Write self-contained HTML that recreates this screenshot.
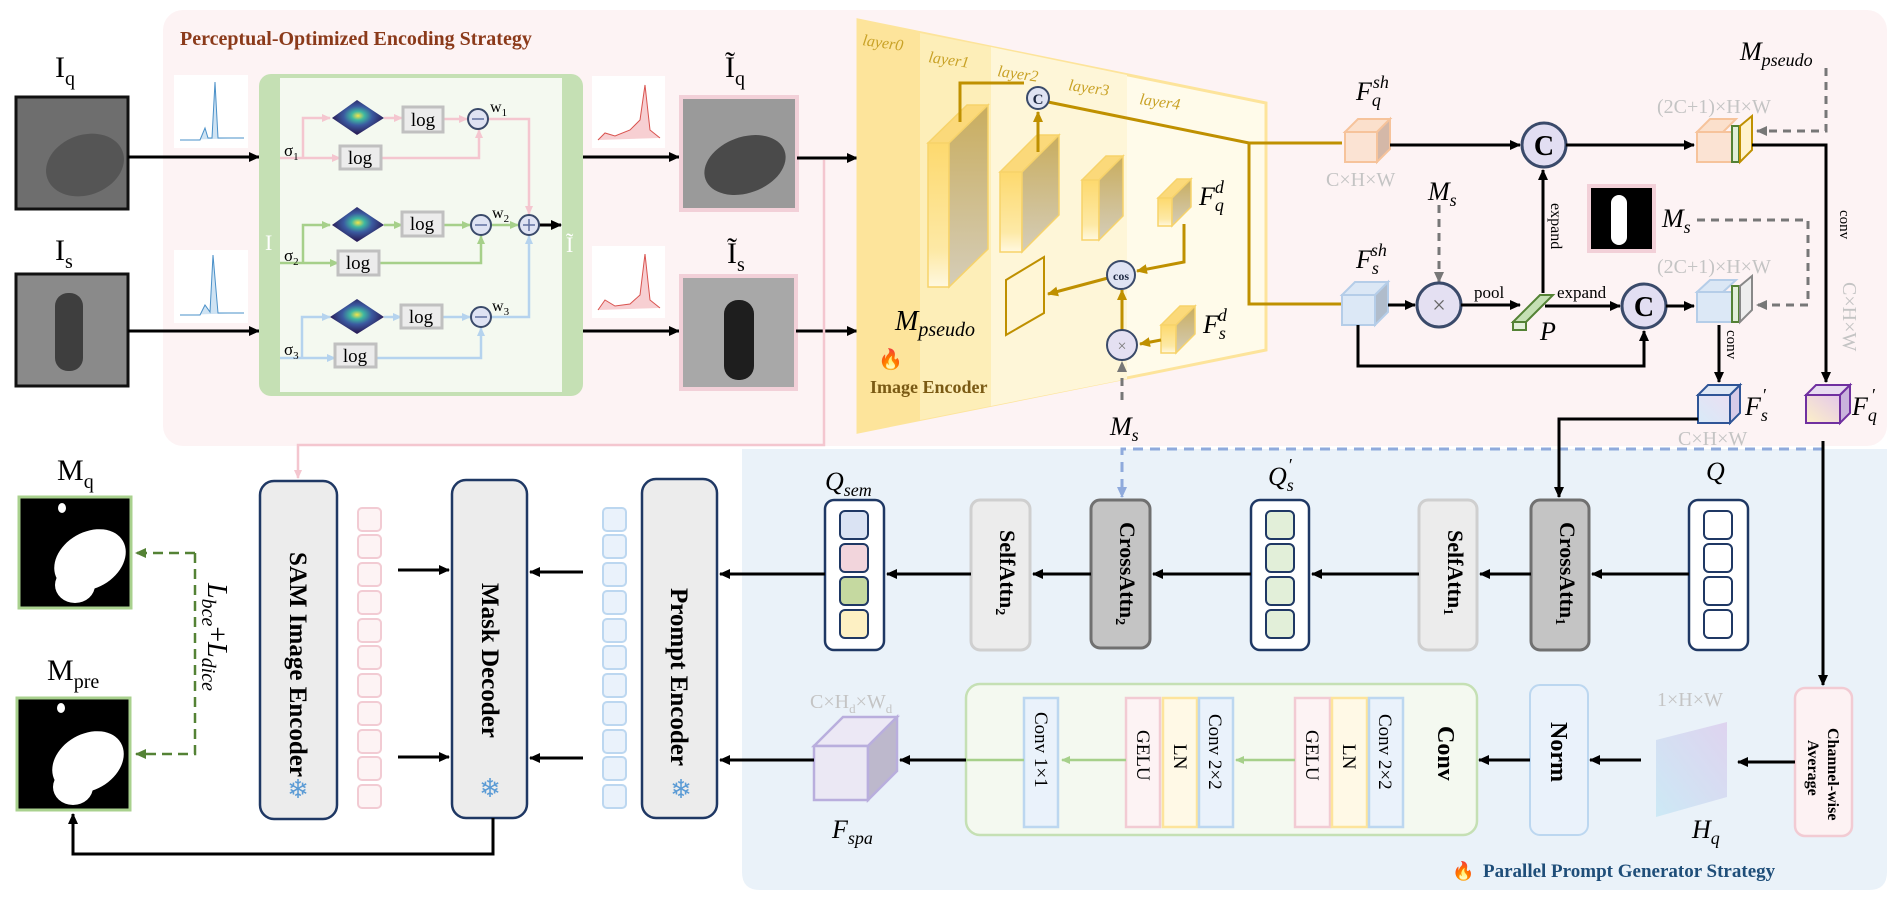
<!DOCTYPE html>
<html><head><meta charset="utf-8"><style>
html,body{margin:0;padding:0;background:#fff;}
svg{display:block;}
text{font-family:"Liberation Serif",serif;}
.it{font-style:italic;}
.gray{fill:#c4c4c4;}
</style></head><body>
<svg width="1898" height="899" viewBox="0 0 1898 899" xmlns="http://www.w3.org/2000/svg">
<defs>
<marker id="ak" markerWidth="12" markerHeight="12" refX="10" refY="6" orient="auto" markerUnits="userSpaceOnUse"><path d="M0,1 L11,6 L0,11 Z" fill="#000"/></marker>
<marker id="ag" markerWidth="12" markerHeight="12" refX="10" refY="6" orient="auto" markerUnits="userSpaceOnUse"><path d="M0,1 L11,6 L0,11 Z" fill="#777"/></marker>
<marker id="agr" markerWidth="12" markerHeight="12" refX="10" refY="6" orient="auto" markerUnits="userSpaceOnUse"><path d="M0,1 L11,6 L0,11 Z" fill="#548235"/></marker>
<marker id="alg" markerWidth="10" markerHeight="10" refX="8" refY="5" orient="auto" markerUnits="userSpaceOnUse"><path d="M0,1 L9,5 L0,9 Z" fill="#a6d08a"/></marker>
<marker id="apk" markerWidth="10" markerHeight="10" refX="8" refY="5" orient="auto" markerUnits="userSpaceOnUse"><path d="M0,1 L9,5 L0,9 Z" fill="#f4c6cf"/></marker>
<marker id="abl" markerWidth="10" markerHeight="10" refX="8" refY="5" orient="auto" markerUnits="userSpaceOnUse"><path d="M0,1 L9,5 L0,9 Z" fill="#b5d3ee"/></marker>
<marker id="abd" markerWidth="12" markerHeight="12" refX="10" refY="6" orient="auto" markerUnits="userSpaceOnUse"><path d="M0,1 L11,6 L0,11 Z" fill="#8faadc"/></marker>
<marker id="ay" markerWidth="12" markerHeight="12" refX="10" refY="6" orient="auto" markerUnits="userSpaceOnUse"><path d="M0,1 L11,6 L0,11 Z" fill="#bf9000"/></marker>
<radialGradient id="gau" cx="50%" cy="45%" r="50%"><stop offset="0" stop-color="#f5e44a"/><stop offset="0.25" stop-color="#3fb8a0"/><stop offset="0.55" stop-color="#3b5aa0"/><stop offset="1" stop-color="#2a1f5a"/></radialGradient>
<linearGradient id="blk" x1="0" y1="0" x2="0" y2="1"><stop offset="0" stop-color="#fdd96e"/><stop offset="0.75" stop-color="#fde9a6"/><stop offset="1" stop-color="#fff8e0"/></linearGradient>
<linearGradient id="bside" x1="0" y1="0" x2="0" y2="1"><stop offset="0" stop-color="#c9ad5e"/><stop offset="1" stop-color="#d5cdb8"/></linearGradient>
<linearGradient id="hq" x1="0" y1="1" x2="1" y2="0"><stop offset="0" stop-color="#c9e8f5"/><stop offset="1" stop-color="#ddd0ee"/></linearGradient>
<linearGradient id="fq" x1="0" y1="1" x2="1" y2="0"><stop offset="0" stop-color="#fdf0c8"/><stop offset="1" stop-color="#e4c8ea"/></linearGradient>
<linearGradient id="fs" x1="0" y1="1" x2="1" y2="0"><stop offset="0" stop-color="#d8eaf8"/><stop offset="1" stop-color="#eadff2"/></linearGradient>
</defs>

<!-- panels -->
<rect x="163" y="10" width="1724" height="436" rx="20" fill="#fdf3f4"/>
<path d="M742,449 H1887 V872 Q1887,890 1869,890 H760 Q742,890 742,872 Z" fill="#eaf2f9"/>
<text x="180" y="45" font-size="20" font-weight="bold" fill="#8b3a1a">Perceptual-Optimized Encoding Strategy</text>

<!-- input images -->
<text x="55" y="77" font-size="30">I<tspan font-size="20" dy="8">q</tspan></text>
<rect x="16" y="97" width="112" height="112" fill="#6e6e6e" stroke="#111" stroke-width="3"/>
<ellipse cx="85" cy="165" rx="40" ry="30" fill="#555" transform="rotate(-20 85 165)"/>
<text x="55" y="260" font-size="30">I<tspan font-size="20" dy="8">s</tspan></text>
<rect x="16" y="274" width="112" height="112" fill="#8a8a8a" stroke="#111" stroke-width="3"/>
<rect x="55" y="293" width="28" height="78" rx="13" fill="#3e3e3e"/>
<line x1="128" y1="157" x2="259" y2="157" stroke="#000" stroke-width="3" marker-end="url(#ak)"/>
<line x1="128" y1="331" x2="259" y2="331" stroke="#000" stroke-width="3" marker-end="url(#ak)"/>

<!-- histograms -->
<g>
<rect x="174" y="75" width="74" height="73" fill="#fff"/><polyline points="180,140 200,140 205,128 208,138 212,138 215,82 218,138 244,138" fill="#cfe3f3" stroke="#4a90c8" stroke-width="1"/>
<rect x="174" y="250" width="74" height="73" fill="#fff"/><polyline points="180,315 200,315 205,305 210,312 213,255 218,313 244,313" fill="#cfe3f3" stroke="#4a90c8" stroke-width="1"/>
<rect x="592" y="76" width="73" height="72" fill="#fff"/><polyline points="598,140 605,133 615,136 630,130 640,120 645,85 650,130 660,138" fill="#f7cfd2" stroke="#d9534f" stroke-width="1"/>
<rect x="592" y="246" width="73" height="72" fill="#fff"/><polyline points="598,310 605,300 615,306 630,304 640,295 645,254 650,300 660,308" fill="#f7cfd2" stroke="#d9534f" stroke-width="1"/>
</g>

<!-- green box -->
<rect x="259" y="74" width="324" height="322" rx="12" fill="#c5e0b4"/>
<rect x="280" y="78" width="282" height="314" fill="#f4f9f0"/>
<text x="265" y="250" font-size="22" fill="#fff">I</text>
<text x="566" y="252" font-size="22" fill="#fff">Ĩ</text>
<g font-size="19">
<!-- row1 pink -->
<g stroke="#f4c6cf" stroke-width="2.5" fill="none">
<polyline points="280,158 340,158" marker-end="url(#apk)"/>
<polyline points="303,158 303,118 330,118" marker-end="url(#apk)"/>
<polyline points="384,118 402,118" marker-end="url(#apk)"/>
<polyline points="443,119 467,119" marker-end="url(#apk)"/>
<polyline points="381,158 479,158 479,130" marker-end="url(#apk)"/>
<polyline points="488,119 529,119 529,214" marker-end="url(#apk)"/>
</g>
<!-- row2 green -->
<g stroke="#a6d08a" stroke-width="2.5" fill="none">
<polyline points="280,263 338,263" marker-end="url(#alg)"/>
<polyline points="303,263 303,225 330,225" marker-end="url(#alg)"/>
<polyline points="384,225 402,225" marker-end="url(#alg)"/>
<polyline points="443,225 470,225" marker-end="url(#alg)"/>
<polyline points="379,263 481,263 481,236" marker-end="url(#alg)"/>
<polyline points="491,225 518,225" marker-end="url(#alg)"/>
</g>
<!-- row3 blue -->
<g stroke="#b5d3ee" stroke-width="2.5" fill="none">
<polyline points="280,358 335,358" marker-end="url(#abl)"/>
<polyline points="302,358 302,317 330,317" marker-end="url(#abl)"/>
<polyline points="384,317 401,317" marker-end="url(#abl)"/>
<polyline points="442,317 470,317" marker-end="url(#abl)"/>
<polyline points="376,358 481,358 481,328" marker-end="url(#abl)"/>
<polyline points="491,317 529,317 529,236" marker-end="url(#abl)"/>
</g>
<line x1="539" y1="225" x2="561" y2="225" stroke="#000" stroke-width="3" marker-end="url(#ak)"/>
<g>
<polygon points="332,118 357,100 384,118 357,135" fill="url(#gau)"/>
<polygon points="332,225 357,207 384,225 357,242" fill="url(#gau)"/>
<polygon points="330,317 357,299 384,317 357,334" fill="url(#gau)"/>
</g>
<g fill="#ececec" stroke="#c0c0c0" stroke-width="3">
<rect x="403" y="107" width="40" height="25"/><rect x="340" y="146" width="41" height="23"/>
<rect x="402" y="212" width="41" height="24"/><rect x="338" y="251" width="41" height="24"/>
<rect x="401" y="305" width="41" height="23"/><rect x="335" y="344" width="41" height="23"/>
</g>
<g text-anchor="middle"><text x="423" y="126">log</text><text x="360" y="164">log</text><text x="422" y="230">log</text><text x="358" y="269">log</text><text x="421" y="323">log</text><text x="355" y="362">log</text></g>
<g fill="#dfe3f3" stroke="#3a4a6a" stroke-width="2">
<circle cx="478" cy="119" r="10"/><circle cx="481" cy="225" r="10"/><circle cx="481" cy="317" r="10"/><circle cx="529" cy="225" r="10"/>
</g>
<g stroke="#6070a0" stroke-width="1.5"><line x1="472" y1="119" x2="484" y2="119"/><line x1="475" y1="225" x2="487" y2="225"/><line x1="475" y1="317" x2="487" y2="317"/><line x1="523" y1="225" x2="535" y2="225"/><line x1="529" y1="219" x2="529" y2="231"/></g>
<text x="490" y="112" font-size="16">w<tspan font-size="11" dy="4">1</tspan></text>
<text x="492" y="218" font-size="16">w<tspan font-size="11" dy="4">2</tspan></text>
<text x="492" y="311" font-size="16">w<tspan font-size="11" dy="4">3</tspan></text>
<text x="284" y="156" font-size="17">σ<tspan font-size="11" dy="4">1</tspan></text>
<text x="284" y="261" font-size="17">σ<tspan font-size="11" dy="4">2</tspan></text>
<text x="284" y="355" font-size="17">σ<tspan font-size="11" dy="4">3</tspan></text>
</g>
<line x1="583" y1="157" x2="679" y2="157" stroke="#000" stroke-width="3" marker-end="url(#ak)"/>
<line x1="583" y1="331" x2="679" y2="331" stroke="#000" stroke-width="3" marker-end="url(#ak)"/>

<!-- enhanced images -->
<text x="725" y="77" font-size="30">Ĩ<tspan font-size="20" dy="8">q</tspan></text>
<rect x="681" y="97" width="116" height="113" fill="#9a9a9a" stroke="#f2d0d8" stroke-width="4"/>
<ellipse cx="745" cy="165" rx="42" ry="28" fill="#4a4a4a" transform="rotate(-20 745 165)"/>
<text x="727" y="263" font-size="30">Ĩ<tspan font-size="20" dy="8">s</tspan></text>
<rect x="681" y="276" width="115" height="113" fill="#a8a8a8" stroke="#f2d0d8" stroke-width="4"/>
<rect x="724" y="300" width="30" height="80" rx="14" fill="#1e1e1e"/>
<line x1="797" y1="158" x2="857" y2="158" stroke="#000" stroke-width="3" marker-end="url(#ak)"/>
<line x1="796" y1="331" x2="857" y2="331" stroke="#000" stroke-width="3" marker-end="url(#ak)"/>
<polyline points="824,160 824,445 298,445 298,478" fill="none" stroke="#f4c6cf" stroke-width="2.5" marker-end="url(#apk)"/>

<!-- encoder trapezoid -->
<polygon points="858,20 1266,103 1266,350 858,432" fill="#fffbea" stroke="#fde49b" stroke-width="3"/>
<polygon points="858,20 920,33 920,420 858,432" fill="#fde49b"/>
<polygon points="920,33 991,47 991,406 920,420" fill="#fdeeb8"/>
<polygon points="991,47 1127,75 1127,379 991,406" fill="#fef6d8"/>
<g font-size="16" fill="#c9a227" class="it"><text x="862" y="45" transform="rotate(8 862 45)">layer0</text><text x="928" y="62" transform="rotate(8 928 62)">layer1</text><text x="997" y="76" transform="rotate(8 997 76)">layer2</text><text x="1068" y="90" transform="rotate(8 1068 90)">layer3</text><text x="1139" y="104" transform="rotate(8 1139 104)">layer4</text></g>
<!-- blocks -->
<g stroke="#f7d36a" stroke-width="1.5">
<polygon points="928,143 967,105 988,105 949,143" fill="#fbd97a"/><rect x="928" y="143" width="21" height="144" fill="url(#blk)"/><polygon points="949,143 988,105 988,249 949,287" fill="url(#bside)"/>
<polygon points="1000,172 1037,135 1059,135 1022,172" fill="#fbd97a"/><rect x="1000" y="172" width="22" height="80" fill="url(#blk)"/><polygon points="1022,172 1059,135 1059,215 1022,252" fill="url(#bside)"/>
<polygon points="1082,180 1106,156 1123,156 1099,180" fill="#fbd97a"/><rect x="1082" y="180" width="17" height="60" fill="url(#blk)"/><polygon points="1099,180 1123,156 1123,216 1099,240" fill="url(#bside)"/>
<polygon points="1158,198 1177,179 1191,179 1172,198" fill="#fbd97a"/><rect x="1158" y="198" width="14" height="28" fill="url(#blk)"/><polygon points="1172,198 1191,179 1191,207 1172,226" fill="url(#bside)"/>
<polygon points="1161,325 1180,306 1195,306 1176,325" fill="#fbd97a"/><rect x="1161" y="325" width="15" height="28" fill="url(#blk)"/><polygon points="1176,325 1195,306 1195,334 1176,353" fill="url(#bside)"/>
</g>
<g stroke="#bf9000" stroke-width="3" fill="none">
<polyline points="960,122 960,83 1024,83"/>
<line x1="1038" y1="152" x2="1038" y2="112" marker-end="url(#ay)"/>
<polyline points="1048,102 1249,143 1342,143"/>
<polyline points="1249,143 1249,304 1342,304"/>
<polyline points="1184,224 1184,262 1137,271" marker-end="url(#ay)"/>
<line x1="1108" y1="278" x2="1048" y2="294" marker-end="url(#ay)"/>
<line x1="1122" y1="330" x2="1122" y2="290" marker-end="url(#ay)"/>
<line x1="1161" y1="340" x2="1140" y2="344" marker-end="url(#ay)"/>
</g>
<circle cx="1038" cy="98" r="11" fill="#dfe3f3" stroke="#3a4a6a" stroke-width="2"/>
<text x="1038" y="104" font-size="15" text-anchor="middle" font-family="Liberation Sans,sans-serif" font-weight="bold" fill="#1f2a44">C</text>
<circle cx="1121" cy="275" r="14" fill="#dfe3f3" stroke="#3a4a6a" stroke-width="2"/>
<text x="1121" y="280" font-size="12" text-anchor="middle" font-family="Liberation Sans,sans-serif" font-weight="bold" fill="#1f2a44">cos</text>
<circle cx="1122" cy="345" r="15" fill="#e4e0f2" stroke="#3a4a6a" stroke-width="2"/>
<text x="1122" y="351" font-size="16" text-anchor="middle" fill="#777">×</text>
<polygon points="1006,280 1044,257 1044,313 1006,335" fill="#fff6d6" stroke="#bf9000" stroke-width="2"/>
<text x="895" y="330" font-size="28" class="it">M<tspan font-size="20" dy="6">pseudo</tspan></text>
<text x="1199" y="205" font-size="26" class="it">F<tspan font-size="18" dy="6">q</tspan><tspan font-size="18" dy="-18" dx="-9">d</tspan></text>
<text x="1203" y="333" font-size="26" class="it">F<tspan font-size="18" dy="6">s</tspan><tspan font-size="18" dy="-18" dx="-8">d</tspan></text>
<text x="878" y="366" font-size="20">🔥</text>
<text x="870" y="393" font-size="18" font-weight="bold" fill="#7a5a14">Image Encoder</text>
<line x1="1122" y1="400" x2="1122" y2="362" stroke="#777" stroke-width="3" stroke-dasharray="8,6" marker-end="url(#ag)"/>
<text x="1110" y="435" font-size="26" class="it">M<tspan font-size="18" dy="6">s</tspan></text>

<!-- right top area -->
<text x="1356" y="100" font-size="26" class="it">F<tspan font-size="18" dy="6">q</tspan><tspan font-size="18" dy="-18" dx="-8">sh</tspan></text>
<g stroke="#f6c39b" stroke-width="2"><polygon points="1345,132 1358,119 1390,119 1377,132" fill="#fbe0cc"/><rect x="1345" y="132" width="32" height="30" fill="#fbe3d3"/><polygon points="1377,132 1390,119 1390,149 1377,162" fill="#d4b8a8"/></g>
<text x="1326" y="186" font-size="20" class="gray">C×H×W</text>
<line x1="1390" y1="145" x2="1520" y2="145" stroke="#000" stroke-width="3" marker-end="url(#ak)"/>
<circle cx="1544" cy="145" r="22" fill="#e2def2" stroke="#3a4a6a" stroke-width="3"/>
<text x="1544" y="155" font-size="28" text-anchor="middle" font-family="Liberation Sans,sans-serif" font-weight="bold">C</text>
<line x1="1566" y1="145" x2="1694" y2="145" stroke="#000" stroke-width="3" marker-end="url(#ak)"/>
<g stroke-width="2"><polygon points="1697,132 1710,119 1736,119 1723,132" fill="#fbe0cc" stroke="#f6c39b"/><rect x="1697" y="132" width="35" height="30" fill="#fbe3d3" stroke="#f6c39b"/><rect x="1732" y="126" width="7" height="36" fill="#e2efd9" stroke="#548235"/><polygon points="1740,126 1752,116 1752,150 1740,162" fill="#fff2cc" stroke="#bf9000"/></g>
<text x="1657" y="113" font-size="20" class="gray">(2C+1)×H×W</text>
<text x="1740" y="60" font-size="26" class="it">M<tspan font-size="18" dy="6">pseudo</tspan></text>
<polyline points="1826,68 1826,131 1757,131" fill="none" stroke="#777" stroke-width="3" stroke-dasharray="8,6" marker-end="url(#ag)"/>
<polyline points="1752,145 1826,145 1826,382" fill="none" stroke="#000" stroke-width="3" marker-end="url(#ak)"/>
<text x="1840" y="210" font-size="15" transform="rotate(90 1840 210)">conv</text>
<text x="1843" y="282" font-size="20" class="gray" transform="rotate(90 1843 282)">C×H×W</text>

<text x="1356" y="268" font-size="26" class="it">F<tspan font-size="18" dy="6">s</tspan><tspan font-size="18" dy="-18" dx="-8">sh</tspan></text>
<g stroke="#b5cde8" stroke-width="2"><polygon points="1342,295 1355,282 1388,282 1375,295" fill="#dbe7f5"/><rect x="1342" y="295" width="33" height="30" fill="#dce8f6"/><polygon points="1375,295 1388,282 1388,312 1375,325" fill="#b0bccb"/></g>
<line x1="1388" y1="305" x2="1415" y2="305" stroke="#000" stroke-width="3" marker-end="url(#ak)"/>
<text x="1428" y="200" font-size="26" class="it">M<tspan font-size="18" dy="6">s</tspan></text>
<line x1="1439" y1="205" x2="1439" y2="282" stroke="#777" stroke-width="3" stroke-dasharray="8,6" marker-end="url(#ag)"/>
<circle cx="1439" cy="305" r="22" fill="#e4e0f2" stroke="#3a4a6a" stroke-width="3"/>
<text x="1439" y="313" font-size="24" text-anchor="middle" fill="#666">×</text>
<line x1="1461" y1="305" x2="1520" y2="305" stroke="#000" stroke-width="3" marker-end="url(#ak)"/>
<text x="1474" y="298" font-size="17">pool</text>
<polygon points="1513,322 1540,295 1553,295 1526,322" fill="#c5e0b4" stroke="#548235" stroke-width="2"/>
<rect x="1513" y="322" width="13" height="8" fill="#e2efd9" stroke="#548235" stroke-width="2"/>
<text x="1540" y="340" font-size="26" class="it">P</text>
<line x1="1543" y1="293" x2="1543" y2="170" stroke="#000" stroke-width="3" marker-end="url(#ak)"/>
<text x="1551" y="203" font-size="16" transform="rotate(90 1551 203)">expand</text>
<text x="1557" y="298" font-size="17">expand</text>
<line x1="1545" y1="306" x2="1620" y2="306" stroke="#000" stroke-width="3" marker-end="url(#ak)"/>
<polyline points="1358,325 1358,366 1644,366 1644,331" fill="none" stroke="#000" stroke-width="3" marker-end="url(#ak)"/>
<circle cx="1644" cy="306" r="22" fill="#e2def2" stroke="#3a4a6a" stroke-width="3"/>
<text x="1644" y="316" font-size="28" text-anchor="middle" font-family="Liberation Sans,sans-serif" font-weight="bold">C</text>
<line x1="1666" y1="306" x2="1694" y2="306" stroke="#000" stroke-width="3" marker-end="url(#ak)"/>
<rect x="1589" y="186" width="65" height="65" fill="#000" stroke="#f2d0d8" stroke-width="4"/>
<rect x="1611" y="195" width="16" height="50" rx="8" fill="#fff"/>
<text x="1662" y="227" font-size="26" class="it">M<tspan font-size="18" dy="6">s</tspan></text>
<polyline points="1697,220 1808,220 1808,305 1757,305" fill="none" stroke="#777" stroke-width="3" stroke-dasharray="8,6" marker-end="url(#ag)"/>
<text x="1657" y="273" font-size="20" class="gray">(2C+1)×H×W</text>
<g stroke-width="2"><polygon points="1697,292 1710,280 1736,280 1723,292" fill="#dbe7f5" stroke="#b5cde8"/><rect x="1697" y="292" width="35" height="30" fill="#dce8f6" stroke="#b5cde8"/><rect x="1732" y="286" width="7" height="36" fill="#e2efd9" stroke="#548235"/><polygon points="1740,286 1752,276 1752,310 1740,322" fill="#eeeeee" stroke="#888"/></g>
<line x1="1719" y1="325" x2="1719" y2="382" stroke="#000" stroke-width="3" marker-end="url(#ak)"/>
<text x="1727" y="330" font-size="15" transform="rotate(90 1727 330)">conv</text>
<g stroke-width="2"><polygon points="1698,395 1708,385 1740,385 1730,395" fill="#dfe8f5" stroke="#2f5597"/><rect x="1698" y="395" width="32" height="28" fill="url(#fs)" stroke="#2f5597"/><polygon points="1730,395 1740,385 1740,413 1730,423" fill="#d7cbe8" stroke="#2f5597"/></g>
<text x="1745" y="415" font-size="26" class="it">F<tspan font-size="18" dy="6">s</tspan><tspan font-size="18" dy="-20" dx="-6">′</tspan></text>
<g stroke-width="2"><polygon points="1806,395 1816,385 1850,385 1840,395" fill="#e8dcf0" stroke="#7030a0"/><rect x="1806" y="395" width="34" height="28" fill="url(#fq)" stroke="#7030a0"/><polygon points="1840,395 1850,385 1850,413 1840,423" fill="#c9b3dc" stroke="#7030a0"/></g>
<text x="1852" y="415" font-size="26" class="it">F<tspan font-size="18" dy="6">q</tspan><tspan font-size="18" dy="-20" dx="-6">′</tspan></text>
<text x="1678" y="445" font-size="20" class="gray">C×H×W</text>

<!-- bottom blue area -->
<polyline points="1823,449 1122,449 1122,497" fill="none" stroke="#8faadc" stroke-width="3" stroke-dasharray="10,7" marker-end="url(#abd)"/>
<polyline points="1698,419 1559,419 1559,497" fill="none" stroke="#000" stroke-width="3" marker-end="url(#ak)"/>
<line x1="1823" y1="441" x2="1823" y2="685" stroke="#000" stroke-width="3" marker-end="url(#ak)"/>

<text x="1706" y="480" font-size="26" class="it">Q</text>
<rect x="1689" y="500" width="59" height="150" rx="9" fill="#fff" stroke="#1f3864" stroke-width="2.5"/>
<g fill="#fff" stroke="#1f3864" stroke-width="2"><rect x="1704" y="511" width="28" height="28" rx="5"/><rect x="1704" y="544" width="28" height="28" rx="5"/><rect x="1704" y="577" width="28" height="28" rx="5"/><rect x="1704" y="610" width="28" height="28" rx="5"/></g>
<rect x="1531" y="500" width="58" height="150" rx="9" fill="#c4c4c4" stroke="#707070" stroke-width="3"/>
<rect x="1419" y="500" width="58" height="150" rx="9" fill="#ececec" stroke="#cfcfcf" stroke-width="3"/>
<rect x="1251" y="500" width="58" height="150" rx="9" fill="#fff" stroke="#1f3864" stroke-width="2.5"/>
<g fill="#e2efd9" stroke="#1f3864" stroke-width="2"><rect x="1266" y="511" width="28" height="28" rx="5"/><rect x="1266" y="544" width="28" height="28" rx="5"/><rect x="1266" y="577" width="28" height="28" rx="5"/><rect x="1266" y="610" width="28" height="28" rx="5"/></g>
<text x="1268" y="485" font-size="26" class="it">Q<tspan font-size="18" dy="6">s</tspan><tspan font-size="18" dy="-20" dx="-6">′</tspan></text>
<rect x="1091" y="500" width="59" height="148" rx="9" fill="#c4c4c4" stroke="#707070" stroke-width="3"/>
<rect x="971" y="500" width="59" height="150" rx="9" fill="#ececec" stroke="#cfcfcf" stroke-width="3"/>
<rect x="825" y="500" width="59" height="150" rx="9" fill="#fff" stroke="#1f3864" stroke-width="2.5"/>
<g stroke="#1f3864" stroke-width="2"><rect x="840" y="511" width="28" height="28" rx="5" fill="#dae3f3"/><rect x="840" y="544" width="28" height="28" rx="5" fill="#f2d5dc"/><rect x="840" y="577" width="28" height="28" rx="5" fill="#c5d9a0"/><rect x="840" y="610" width="28" height="28" rx="5" fill="#fdf0c3"/></g>
<text x="825" y="490" font-size="26" class="it">Q<tspan font-size="18" dy="6">sem</tspan></text>
<g font-size="22" font-weight="bold">
<text x="1560" y="522" transform="rotate(90 1560 522)">CrossAttn<tspan font-size="14" dy="4">1</tspan></text>
<text x="1448" y="530" transform="rotate(90 1448 530)">SelfAttn<tspan font-size="14" dy="4">1</tspan></text>
<text x="1120" y="522" transform="rotate(90 1120 522)">CrossAttn<tspan font-size="14" dy="4">2</tspan></text>
<text x="1000" y="530" transform="rotate(90 1000 530)">SelfAttn<tspan font-size="14" dy="4">2</tspan></text>
</g>
<g stroke="#000" stroke-width="3" fill="none">
<line x1="1689" y1="574" x2="1592" y2="574" marker-end="url(#ak)"/>
<line x1="1531" y1="574" x2="1480" y2="574" marker-end="url(#ak)"/>
<line x1="1419" y1="574" x2="1312" y2="574" marker-end="url(#ak)"/>
<line x1="1251" y1="574" x2="1153" y2="574" marker-end="url(#ak)"/>
<line x1="1091" y1="574" x2="1033" y2="574" marker-end="url(#ak)"/>
<line x1="971" y1="574" x2="887" y2="574" marker-end="url(#ak)"/>
<line x1="825" y1="574" x2="720" y2="574" marker-end="url(#ak)"/>
</g>

<!-- bottom row -->
<rect x="1795" y="688" width="57" height="148" rx="10" fill="#fdf2f3" stroke="#f2cbd3" stroke-width="2.5"/>
<text x="1828" y="728" font-size="16" font-weight="bold" transform="rotate(90 1828 728)">Channel-wise</text>
<text x="1808" y="740" font-size="16" font-weight="bold" transform="rotate(90 1808 740)">Average</text>
<line x1="1795" y1="762" x2="1738" y2="762" stroke="#000" stroke-width="3" marker-end="url(#ak)"/>
<polygon points="1656,740 1727,722 1727,797 1656,817" fill="url(#hq)" opacity="0.9"/>
<text x="1657" y="706" font-size="20" class="gray">1×H×W</text>
<text x="1692" y="838" font-size="26" class="it">H<tspan font-size="18" dy="6">q</tspan></text>
<line x1="1641" y1="760" x2="1590" y2="760" stroke="#000" stroke-width="3" marker-end="url(#ak)"/>
<rect x="1530" y="685" width="58" height="150" rx="10" fill="#eaf2fb" stroke="#bcd7f0" stroke-width="2"/>
<text x="1551" y="722" font-size="24" font-weight="bold" transform="rotate(90 1551 722)">Norm</text>
<line x1="1530" y1="760" x2="1479" y2="760" stroke="#000" stroke-width="3" marker-end="url(#ak)"/>
<rect x="966" y="684" width="511" height="151" rx="14" fill="#f4f9f0" stroke="#c5e0b4" stroke-width="2.5"/>
<text x="1438" y="726" font-size="24" font-weight="bold" transform="rotate(90 1438 726)">Conv</text>
<g stroke-width="2.5">
<rect x="1295" y="698" width="35" height="129" fill="#fdf3f4" stroke="#f2cbd3"/>
<rect x="1332" y="698" width="35" height="129" fill="#fff9e6" stroke="#fde49b"/>
<rect x="1369" y="698" width="34" height="129" fill="#eaf2fb" stroke="#bcd7f0"/>
<rect x="1126" y="698" width="34" height="129" fill="#fdf3f4" stroke="#f2cbd3"/>
<rect x="1163" y="698" width="34" height="129" fill="#fff9e6" stroke="#fde49b"/>
<rect x="1199" y="698" width="34" height="129" fill="#eaf2fb" stroke="#bcd7f0"/>
<rect x="1024" y="698" width="34" height="129" fill="#eaf2fb" stroke="#bcd7f0"/>
</g>
<g font-size="19">
<text x="1379" y="714" transform="rotate(90 1379 714)">Conv 2×2</text>
<text x="1343" y="744" transform="rotate(90 1343 744)">LN</text>
<text x="1306" y="730" transform="rotate(90 1306 730)">GELU</text>
<text x="1209" y="714" transform="rotate(90 1209 714)">Conv 2×2</text>
<text x="1174" y="744" transform="rotate(90 1174 744)">LN</text>
<text x="1137" y="730" transform="rotate(90 1137 730)">GELU</text>
<text x="1035" y="712" transform="rotate(90 1035 712)">Conv 1×1</text>
</g>
<g stroke="#a6d08a" stroke-width="2.5" fill="none">
<line x1="1295" y1="760" x2="1236" y2="760" marker-end="url(#alg)"/>
<line x1="1126" y1="760" x2="1062" y2="760" marker-end="url(#alg)"/>
<line x1="1024" y1="760" x2="966" y2="760"/>
</g>
<line x1="966" y1="760" x2="900" y2="760" stroke="#000" stroke-width="3" marker-end="url(#ak)"/>
<g stroke="#b9aedd" stroke-width="2.5"><polygon points="814,746 843,717 897,717 868,746" fill="#ece8f5"/><rect x="814" y="746" width="54" height="54" fill="#ebe8f4"/><polygon points="868,746 897,717 897,771 868,800" fill="#bdb8cc"/></g>
<text x="810" y="708" font-size="20" class="gray">C×H<tspan font-size="13" dy="5">d</tspan><tspan dy="-5">×W</tspan><tspan font-size="13" dy="5">d</tspan></text>
<text x="832" y="838" font-size="26" class="it">F<tspan font-size="18" dy="6">spa</tspan></text>
<line x1="814" y1="760" x2="720" y2="760" stroke="#000" stroke-width="3" marker-end="url(#ak)"/>
<text x="1452" y="877" font-size="18">🔥</text>
<text x="1483" y="877" font-size="19" font-weight="bold" fill="#1f4e79">Parallel Prompt Generator Strategy</text>

<!-- SAM side -->
<g fill="#ececec" stroke="#1f3864" stroke-width="2.5">
<rect x="260" y="481" width="77" height="338" rx="14"/>
<rect x="452" y="480" width="75" height="338" rx="14"/>
<rect x="642" y="479" width="75" height="339" rx="14"/>
</g>
<g font-size="25" font-weight="bold">
<text x="290" y="552" transform="rotate(90 290 552)">SAM  Image Encoder</text>
<text x="482" y="583" transform="rotate(90 482 583)">Mask  Decoder</text>
<text x="671" y="588" transform="rotate(90 671 588)">Prompt  Encoder</text>
</g>
<g font-size="26" fill="#5b9bd5" text-anchor="middle"><text x="298" y="798">❄</text><text x="490" y="797">❄</text><text x="681" y="798">❄</text></g>
<g fill="#fdf3f4" stroke="#f2cbd3" stroke-width="2">
<rect x="358" y="508" width="23" height="23" rx="4"/><rect x="358" y="535" width="23" height="23" rx="4"/><rect x="358" y="563" width="23" height="23" rx="4"/><rect x="358" y="591" width="23" height="23" rx="4"/><rect x="358" y="619" width="23" height="23" rx="4"/><rect x="358" y="646" width="23" height="23" rx="4"/><rect x="358" y="674" width="23" height="23" rx="4"/><rect x="358" y="702" width="23" height="23" rx="4"/><rect x="358" y="730" width="23" height="23" rx="4"/><rect x="358" y="757" width="23" height="23" rx="4"/><rect x="358" y="785" width="23" height="23" rx="4"/>
</g>
<g fill="#eaf2fb" stroke="#bcd7f0" stroke-width="2">
<rect x="603" y="508" width="23" height="23" rx="4"/><rect x="603" y="535" width="23" height="23" rx="4"/><rect x="603" y="563" width="23" height="23" rx="4"/><rect x="603" y="591" width="23" height="23" rx="4"/><rect x="603" y="619" width="23" height="23" rx="4"/><rect x="603" y="646" width="23" height="23" rx="4"/><rect x="603" y="674" width="23" height="23" rx="4"/><rect x="603" y="702" width="23" height="23" rx="4"/><rect x="603" y="730" width="23" height="23" rx="4"/><rect x="603" y="757" width="23" height="23" rx="4"/><rect x="603" y="785" width="23" height="23" rx="4"/>
</g>
<g stroke="#000" stroke-width="3">
<line x1="398" y1="570" x2="449" y2="570" marker-end="url(#ak)"/>
<line x1="398" y1="757" x2="449" y2="757" marker-end="url(#ak)"/>
<line x1="583" y1="572" x2="530" y2="572" marker-end="url(#ak)"/>
<line x1="583" y1="758" x2="530" y2="758" marker-end="url(#ak)"/>
</g>
<polyline points="493,818 493,854 73,854 73,814" fill="none" stroke="#000" stroke-width="3" marker-end="url(#ak)"/>

<!-- masks -->
<text x="57" y="480" font-size="30">M<tspan font-size="20" dy="8">q</tspan></text>
<rect x="19" y="497" width="112" height="111" fill="#000" stroke="#a9d18e" stroke-width="3"/>
<ellipse cx="62" cy="508" rx="4" ry="5" fill="#fff"/>
<ellipse cx="90" cy="560" rx="38" ry="28" fill="#fff" transform="rotate(-30 90 560)"/>
<ellipse cx="75" cy="585" rx="20" ry="18" fill="#fff"/>
<text x="47" y="680" font-size="30">M<tspan font-size="20" dy="8">pre</tspan></text>
<rect x="17" y="698" width="113" height="112" fill="#000" stroke="#a9d18e" stroke-width="3"/>
<ellipse cx="61" cy="708" rx="4" ry="5" fill="#fff"/>
<ellipse cx="88" cy="762" rx="38" ry="28" fill="#fff" transform="rotate(-30 88 762)"/>
<ellipse cx="73" cy="787" rx="20" ry="18" fill="#fff"/>
<polyline points="195,553 195,754 136,754" fill="none" stroke="#548235" stroke-width="2.5" stroke-dasharray="10,6" marker-end="url(#agr)"/>
<line x1="195" y1="553" x2="136" y2="553" stroke="#548235" stroke-width="2.5" stroke-dasharray="10,6" marker-end="url(#agr)"/>
<text x="208" y="583" font-size="28" class="it" transform="rotate(90 208 583)">L<tspan font-size="20" dy="6">bce</tspan><tspan dy="-6" font-style="normal">+</tspan>L<tspan font-size="20" dy="6">dice</tspan></text>
</svg>
</body></html>
